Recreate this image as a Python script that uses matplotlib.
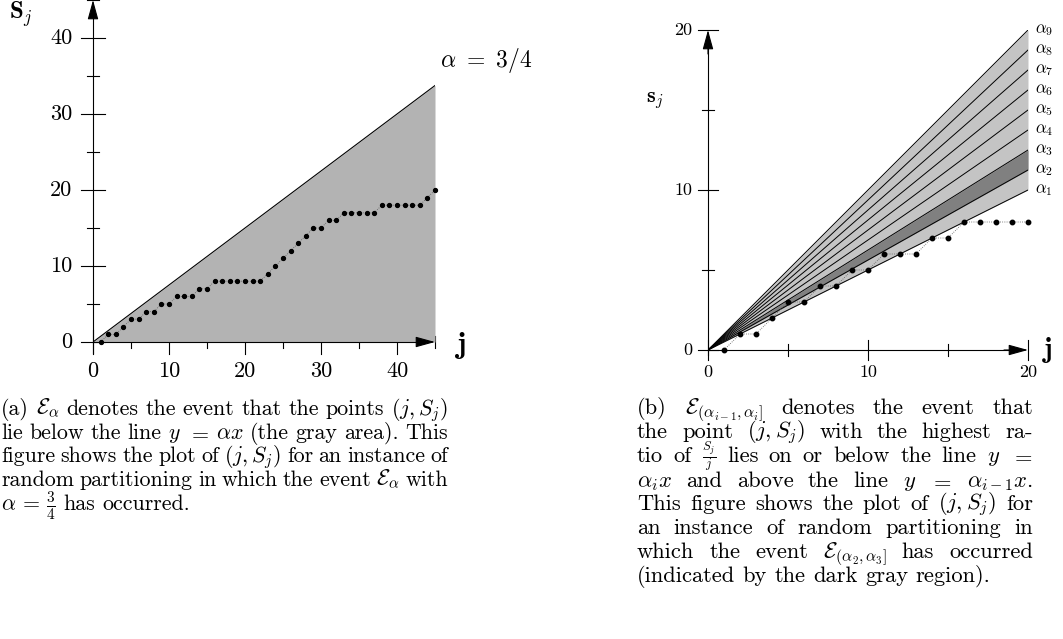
import numpy as np
import matplotlib.pyplot as plt

plt.rcParams['font.family'] = 'serif'
plt.rcParams['font.serif'] = ['cmr10']
plt.rcParams['mathtext.fontset'] = 'cm'
plt.rcParams['axes.formatter.use_mathtext'] = True

# data
walk_j = list(range(1, 46))
walk_S = [0, 1, 1, 2, 3, 3, 4, 4, 5, 5, 6, 6, 6, 7, 7,
          8, 8, 8, 8, 8, 8, 8, 9, 10, 11, 12, 13, 14, 15, 15,
          16, 16, 17, 17, 17, 17, 17, 18, 18, 18, 18, 18, 18, 19, 20]
alpha_a = 0.75
alphas = [0.5, 0.5625, 0.625, 0.6875, 0.75, 0.8125, 0.875, 0.9375, 1.0]
alpha_names = [r'$\alpha_{%d}$' % (i + 1) for i in range(len(alphas))]
dark = (1, 2)   # band between alpha_2 and alpha_3
n_b = 20        # points shown in panel (b)

a_major = [0, 10, 20, 30, 40]
a_minor = [5, 15, 25, 35, 45]
b_major = [0, 10, 20]
b_minor = [5, 15]

# '~' keeps a piece together when lines are justified
cap_a = [r'(a) $\mathcal{E}_\alpha$ denotes the event that the points $(j,~S_j)$',
         r'lie below the line $y$ $=$ $\alpha~x$ (the gray area). This',
         r'figure shows the plot of $(j,~S_j)$ for an instance of',
         r'random partitioning in which the event $\mathcal{E}_\alpha$ with',
         r'$\alpha\,=\,\frac{3}{4}$ has occurred.']
cap_b = [r'(b) $\mathcal{E}_{(\alpha_{i-1},\alpha_i]}$ denotes the event that',
         r'the point $(j,~S_j)$ with the highest ra-',
         r'tio of $\frac{S_j}{j}$ lies on or below the line $y$ $=$',
         r'$\alpha_i~x$ and above the line $y$ $=$ $\alpha_{i-1}~x$.',
         r'This figure shows the plot of $(j,~S_j)$ for',
         r'an instance of random partitioning in',
         r'which the event $\mathcal{E}_{(\alpha_2,\alpha_3]}$ has occurred',
         r'(indicated by the dark gray region).']

W, H = 1063, 639
fig = plt.figure(figsize=(W / 100, H / 100), dpi=100)


def px_axes(left, top, w, h):
    ax = fig.add_axes([left / W, 1 - (top + h) / H, w / W, h / H])
    ax.axis('off')
    return ax


def arrow(ax, start, end, ms):
    ax.annotate('', xy=end, xytext=start,
                arrowprops=dict(arrowstyle='-|>,head_length=0.8,head_width=0.22',
                                color='black', lw=0.8, shrinkA=0, shrinkB=0,
                                mutation_scale=ms))


def ticks(ax, major, minor, lmaj, lmin):
    for t in major:
        ax.plot([-lmaj, lmaj], [t, t], 'k', lw=0.8, clip_on=False, zorder=1)
        ax.plot([t, t], [-lmaj, lmaj], 'k', lw=0.8, clip_on=False, zorder=1)
    for t in minor:
        ax.plot([-lmin, lmin], [t, t], 'k', lw=0.8, clip_on=False, zorder=1)
        ax.plot([t, t], [-lmin, lmin], 'k', lw=0.8, clip_on=False, zorder=1)


# ---- panel (a)
axa = px_axes(93, 0, 342, 342)
axa.set_xlim(0, 45)
axa.set_ylim(0, 45)
ticks(axa, a_major, a_minor, 1.55, 0.8)
jj = np.array([0, 45])
axa.fill_between(jj, 0, alpha_a * jj, color='#b3b3b3', lw=0, zorder=2)
axa.plot(jj, alpha_a * jj, 'k', lw=0.8, zorder=3)
axa.plot(walk_j, walk_S, ls=':', color='0.35', lw=0.6, zorder=3, clip_on=False)
axa.plot(walk_j, walk_S, 'o', color='k', ms=2.8, zorder=4, clip_on=False)
axa.plot([0, 0], [-1.5, 44], 'k', lw=0.8, clip_on=False, zorder=5)
arrow(axa, (0, 43), (0, 45), 15)
axa.plot([0, 44], [0, 0], 'k', lw=0.8, clip_on=False, zorder=5)
arrow(axa, (43, 0), (45, 0), 15)
for t in a_major:
    axa.text(-2.7, t, str(t), fontsize=16, ha='right', va='center')
    axa.text(t, -3.9, str(t), fontsize=16, ha='center', va='center')
axa.text(45.7, 37.0, r'$\alpha\ =\ 3/4$', fontsize=17, ha='left', va='center')
axa.text(47.5, -0.4, r'$\mathbf{j}$', fontsize=22, ha='left', va='center')
axa.text(-9.5, 43.2, r'$\mathbf{S}_j$', fontsize=18, ha='center', va='center')

# ---- panel (b)
axb = px_axes(708, 30, 320, 320)
axb.set_xlim(0, 20)
axb.set_ylim(0, 20)
ticks(axb, b_major, b_minor, 0.65, 0.35)
xx = np.array([0, 20])
axb.fill_between(xx, alphas[0] * xx, alphas[-1] * xx, color='#c4c4c4', lw=0, zorder=2)
axb.fill_between(xx, alphas[dark[0]] * xx, alphas[dark[1]] * xx, color='#808080',
                 lw=0, zorder=2)
for a, name in zip(alphas, alpha_names):
    axb.plot(xx, a * xx, 'k', lw=0.7, zorder=3)
    axb.text(20.45, a * 20, name, fontsize=12, ha='left', va='center')
axb.plot(walk_j[:n_b], walk_S[:n_b], ls=':', color='0.35', lw=0.6, zorder=3)
axb.plot(walk_j[:n_b], walk_S[:n_b], 'o', color='k', ms=3.2, zorder=4, clip_on=False)
axb.plot([0, 0], [-0.3, 19], 'k', lw=0.8, clip_on=False, zorder=5)
arrow(axb, (0, 18.5), (0, 20), 15)
axb.plot([0, 19], [0, 0], 'k', lw=0.8, clip_on=False, zorder=5)
arrow(axb, (18.5, 0), (20, 0), 15)
for t in b_major:
    axb.text(-1.0, t, str(t), fontsize=13, ha='right', va='center')
    axb.text(t, -1.4, str(t), fontsize=13, ha='center', va='center')
axb.text(20.9, 0, r'$\mathbf{j}$', fontsize=20, ha='left', va='center')
axb.text(-3.3, 15.6, r'$\mathbf{s}_j$', fontsize=16, ha='center', va='center')


# ---- justified captions
def caption(lines, x0, x1, baselines, size, frac_scale=1.0):
    r = fig.canvas.get_renderer()

    def fs(s):
        # fractions can be set a bit smaller so they fit the line spacing
        return size * frac_scale if r'\frac' in s else size

    def width(s):
        t = fig.text(0, 0, s, fontsize=fs(s))
        w = t.get_window_extent(r).width
        t.remove()
        return w

    space = width('a a') - width('aa')
    for k, (line, yb) in enumerate(zip(lines, baselines)):
        words = [w.replace('~', ' ') for w in line.split()]
        ws = [width(w) for w in words]
        if k < len(lines) - 1 and len(words) > 1:
            gap = (x1 - x0 - sum(ws)) / (len(words) - 1)
        else:
            gap = space
        x = x0
        for w, wd in zip(words, ws):
            fig.text(x / W, 1 - yb / H, w, fontsize=fs(w), ha='left', va='baseline')
            x += wd + gap


caption(cap_a, 1, 448, [415, 439, 462, 486, 510], 15.8)
caption(cap_b, 637, 1033, [414, 438, 462, 487, 510, 534, 558, 582], 16.2, 0.8)

fig.savefig('out.png', dpi=100)
